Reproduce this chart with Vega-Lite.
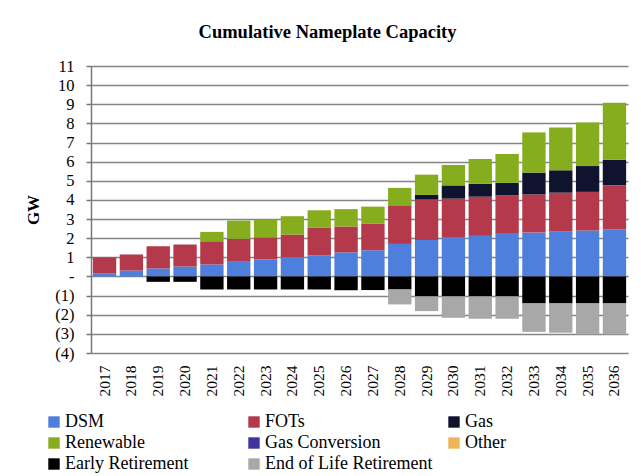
{
  "$schema": "https://vega.github.io/schema/vega-lite/v6.json",
  "autosize": {"type": "none"},
  "padding": {"left": 91, "top": 66, "right": 13, "bottom": 123},
  "width": 537,
  "height": 287,
  "background": "white",
  "title": {
    "text": "Cumulative Nameplate Capacity",
    "font": "Liberation Serif",
    "fontSize": 18.5,
    "fontWeight": "bold",
    "color": "black",
    "anchor": "middle",
    "dx": -32,
    "offset": 17
  },
  "config": {
    "font": "Liberation Serif",
    "view": {"stroke": null},
    "axis": {
      "labelFont": "Liberation Serif",
      "labelColor": "black",
      "titleFont": "Liberation Serif"
    }
  },
  "data": {
    "values": [
      {"year": "2017", "type": "DSM", "gw": 0.17},
      {"year": "2017", "type": "FOTs", "gw": 0.83},
      {"year": "2018", "type": "DSM", "gw": 0.31},
      {"year": "2018", "type": "FOTs", "gw": 0.84},
      {"year": "2019", "type": "DSM", "gw": 0.42},
      {"year": "2019", "type": "FOTs", "gw": 1.16},
      {"year": "2019", "type": "Early Retirement", "gw": -0.28},
      {"year": "2020", "type": "DSM", "gw": 0.52},
      {"year": "2020", "type": "FOTs", "gw": 1.15},
      {"year": "2020", "type": "Early Retirement", "gw": -0.28},
      {"year": "2021", "type": "DSM", "gw": 0.63},
      {"year": "2021", "type": "FOTs", "gw": 1.21},
      {"year": "2021", "type": "Renewable", "gw": 0.49},
      {"year": "2021", "type": "Early Retirement", "gw": -0.68},
      {"year": "2022", "type": "DSM", "gw": 0.77},
      {"year": "2022", "type": "FOTs", "gw": 1.2},
      {"year": "2022", "type": "Renewable", "gw": 0.95},
      {"year": "2022", "type": "Early Retirement", "gw": -0.68},
      {"year": "2023", "type": "DSM", "gw": 0.89},
      {"year": "2023", "type": "FOTs", "gw": 1.16},
      {"year": "2023", "type": "Renewable", "gw": 0.92},
      {"year": "2023", "type": "Early Retirement", "gw": -0.68},
      {"year": "2024", "type": "DSM", "gw": 1.01},
      {"year": "2024", "type": "FOTs", "gw": 1.18},
      {"year": "2024", "type": "Renewable", "gw": 0.96},
      {"year": "2024", "type": "Early Retirement", "gw": -0.68},
      {"year": "2025", "type": "DSM", "gw": 1.11},
      {"year": "2025", "type": "FOTs", "gw": 1.43},
      {"year": "2025", "type": "Renewable", "gw": 0.92},
      {"year": "2025", "type": "Early Retirement", "gw": -0.68},
      {"year": "2026", "type": "DSM", "gw": 1.26},
      {"year": "2026", "type": "FOTs", "gw": 1.35},
      {"year": "2026", "type": "Renewable", "gw": 0.91},
      {"year": "2026", "type": "Early Retirement", "gw": -0.72},
      {"year": "2027", "type": "DSM", "gw": 1.37},
      {"year": "2027", "type": "FOTs", "gw": 1.38},
      {"year": "2027", "type": "Renewable", "gw": 0.9},
      {"year": "2027", "type": "Early Retirement", "gw": -0.71},
      {"year": "2028", "type": "DSM", "gw": 1.7},
      {"year": "2028", "type": "FOTs", "gw": 2.02},
      {"year": "2028", "type": "Renewable", "gw": 0.91},
      {"year": "2028", "type": "Early Retirement", "gw": -0.68},
      {"year": "2028", "type": "End of Life Retirement", "gw": -0.78},
      {"year": "2029", "type": "DSM", "gw": 1.91},
      {"year": "2029", "type": "FOTs", "gw": 2.11},
      {"year": "2029", "type": "Gas", "gw": 0.24},
      {"year": "2029", "type": "Renewable", "gw": 1.06},
      {"year": "2029", "type": "Early Retirement", "gw": -1.04},
      {"year": "2029", "type": "End of Life Retirement", "gw": -0.77},
      {"year": "2030", "type": "DSM", "gw": 2.02},
      {"year": "2030", "type": "FOTs", "gw": 2.05},
      {"year": "2030", "type": "Gas", "gw": 0.69},
      {"year": "2030", "type": "Renewable", "gw": 1.07},
      {"year": "2030", "type": "Early Retirement", "gw": -1.04},
      {"year": "2030", "type": "End of Life Retirement", "gw": -1.12},
      {"year": "2031", "type": "DSM", "gw": 2.12},
      {"year": "2031", "type": "FOTs", "gw": 2.05},
      {"year": "2031", "type": "Gas", "gw": 0.67},
      {"year": "2031", "type": "Renewable", "gw": 1.3},
      {"year": "2031", "type": "Early Retirement", "gw": -1.04},
      {"year": "2031", "type": "End of Life Retirement", "gw": -1.17},
      {"year": "2032", "type": "DSM", "gw": 2.23},
      {"year": "2032", "type": "FOTs", "gw": 2.01},
      {"year": "2032", "type": "Gas", "gw": 0.65},
      {"year": "2032", "type": "Renewable", "gw": 1.51},
      {"year": "2032", "type": "Early Retirement", "gw": -1.04},
      {"year": "2032", "type": "End of Life Retirement", "gw": -1.17},
      {"year": "2033", "type": "DSM", "gw": 2.3},
      {"year": "2033", "type": "FOTs", "gw": 1.99},
      {"year": "2033", "type": "Gas", "gw": 1.14},
      {"year": "2033", "type": "Renewable", "gw": 2.1},
      {"year": "2033", "type": "Early Retirement", "gw": -1.41},
      {"year": "2033", "type": "End of Life Retirement", "gw": -1.49},
      {"year": "2034", "type": "DSM", "gw": 2.36},
      {"year": "2034", "type": "FOTs", "gw": 2.02},
      {"year": "2034", "type": "Gas", "gw": 1.17},
      {"year": "2034", "type": "Renewable", "gw": 2.24},
      {"year": "2034", "type": "Early Retirement", "gw": -1.41},
      {"year": "2034", "type": "End of Life Retirement", "gw": -1.53},
      {"year": "2035", "type": "DSM", "gw": 2.4},
      {"year": "2035", "type": "FOTs", "gw": 2.02},
      {"year": "2035", "type": "Gas", "gw": 1.35},
      {"year": "2035", "type": "Renewable", "gw": 2.28},
      {"year": "2035", "type": "Early Retirement", "gw": -1.41},
      {"year": "2035", "type": "End of Life Retirement", "gw": -1.62},
      {"year": "2036", "type": "DSM", "gw": 2.47},
      {"year": "2036", "type": "FOTs", "gw": 2.29},
      {"year": "2036", "type": "Gas", "gw": 1.34},
      {"year": "2036", "type": "Renewable", "gw": 2.98},
      {"year": "2036", "type": "Early Retirement", "gw": -1.41},
      {"year": "2036", "type": "End of Life Retirement", "gw": -1.62}
    ]
  },
  "mark": {"type": "bar"},
  "encoding": {
    "x": {
      "field": "year",
      "type": "ordinal",
      "scale": {"paddingInner": 0.13, "paddingOuter": 0.07},
      "axis": {
        "title": null,
        "labelAngle": -90,
        "labelFontSize": 15.5,
        "labelPadding": 12,
        "ticks": false,
        "domain": false
      }
    },
    "y": {
      "field": "gw",
      "type": "quantitative",
      "stack": "zero",
      "scale": {"domain": [-4, 11], "nice": false, "zero": false},
      "axis": {
        "title": "GW",
        "titleFontSize": 17,
        "titleFontWeight": "bold",
        "titleColor": "black",
        "titlePadding": 12,
        "values": [-4, -3, -2, -1, 0, 1, 2, 3, 4, 5, 6, 7, 8, 9, 10, 11],
        "labelExpr": "datum.value == 0 ? '-' : datum.value < 0 ? '(' + (-datum.value) + ')' : datum.value",
        "labelFontSize": 16.5,
        "labelPadding": 12,
        "tickSize": 5,
        "tickColor": "#777777",
        "tickWidth": 1.5,
        "domainColor": "#777777",
        "domainWidth": 1.5,
        "grid": true,
        "gridColor": "#858585",
        "gridWidth": 1.6
      }
    },
    "color": {
      "field": "type",
      "type": "nominal",
      "scale": {
        "domain": ["DSM", "FOTs", "Gas", "Renewable", "Gas Conversion", "Other", "Early Retirement", "End of Life Retirement"],
        "range": ["#4f7fdc", "#b3394b", "#0f132e", "#86ad1e", "#3f33a0", "#efb358", "#000000", "#a8a8a8"]
      },
      "legend": {
        "title": null,
        "orient": "none",
        "legendX": -46,
        "legendY": 347,
        "direction": "horizontal",
        "columns": 3,
        "gridAlign": "all",
        "columnPadding": 12,
        "rowPadding": 3,
        "symbolType": "square",
        "symbolSize": 130,
        "symbolStrokeWidth": 0,
        "symbolOffset": 0,
        "labelOffset": 2,
        "labelFont": "Liberation Serif",
        "labelFontSize": 18,
        "labelColor": "black",
        "labelLimit": 300
      }
    },
    "order": {"field": "order", "type": "quantitative"}
  },
  "transform": [
    {"calculate": "indexof(['DSM','FOTs','Gas','Renewable','Gas Conversion','Other','Early Retirement','End of Life Retirement'], datum.type)", "as": "order"}
  ]
}
